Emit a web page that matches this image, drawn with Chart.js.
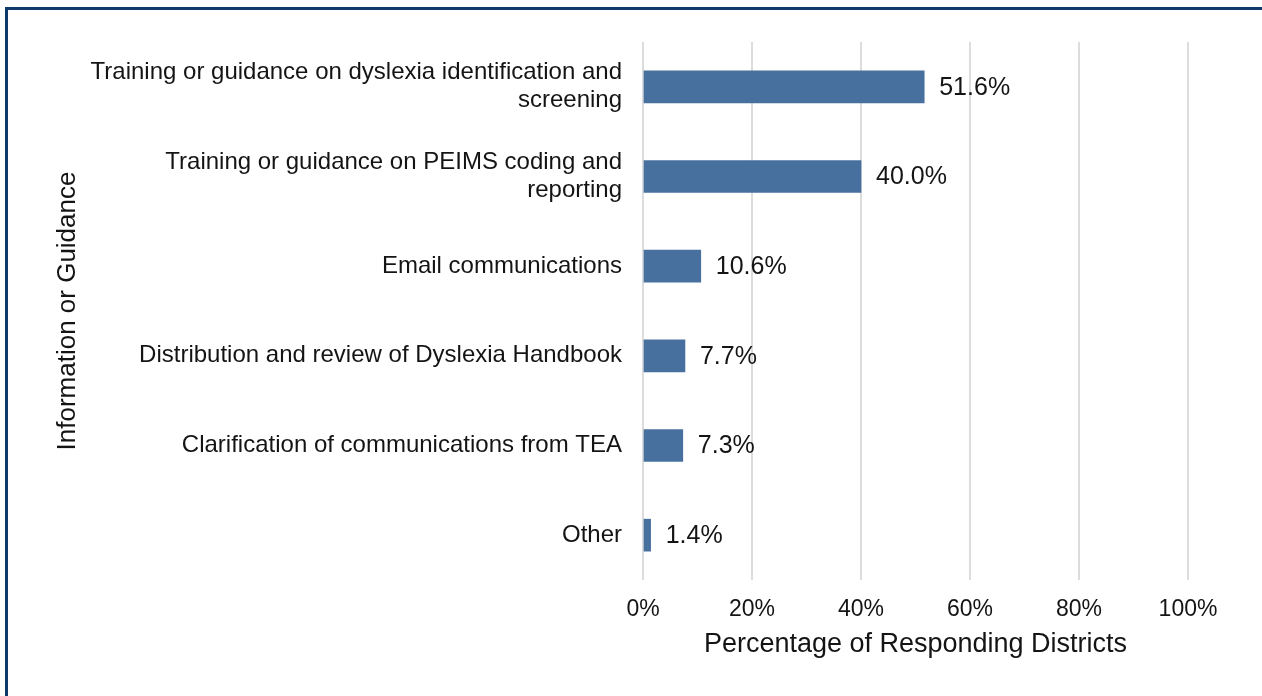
<!DOCTYPE html>
<html>
<head>
<meta charset="utf-8">
<script src="https://cdn.jsdelivr.net/npm/chart.js@4/dist/chart.umd.min.js"></script>
<style>
  html, body { margin: 0; padding: 0; background: #fff; overflow: hidden; }
  #wrap { position: relative; width: 1262px; height: 696px; }
  #frame { position: absolute; left: 5px; top: 7px; width: 1300px; height: 740px;
           border-top: 3px solid #0e3a68; border-left: 3px solid #0e3a68; box-sizing: border-box; }
  canvas { position: absolute; left: 0; top: 0; }
</style>
</head>
<body>
<div id="wrap">
  <div id="frame"></div>
  <canvas id="c" width="1262" height="696"></canvas>
</div>
<script>
const categories = [
  ["Training or guidance on dyslexia identification and", "screening"],
  ["Training or guidance on PEIMS coding and", "reporting"],
  "Email communications",
  "Distribution and review of Dyslexia Handbook",
  "Clarification of communications from TEA",
  "Other"
];
const values = [51.6, 40.0, 10.6, 7.7, 7.3, 1.4];
const xTickValues = [0, 20, 40, 60, 80, 100];
const xTitle = "Percentage of Responding Districts";
const yTitle = "Information or Guidance";

const FONT = "'Liberation Sans', Arial, sans-serif";
const TEXT = "#141414";

const valueLabels = {
  id: 'valueLabels',
  afterDatasetsDraw(chart) {
    const ctx = chart.ctx;
    const meta = chart.getDatasetMeta(0);
    ctx.save();
    ctx.font = "25px " + FONT;
    ctx.fillStyle = TEXT;
    ctx.textAlign = 'left';
    ctx.textBaseline = 'middle';
    meta.data.forEach((bar, i) => {
      ctx.fillText(values[i].toFixed(1) + '%', bar.x + 15, bar.y + 1);
    });
    ctx.restore();
  }
};

new Chart(document.getElementById('c'), {
  type: 'bar',
  data: {
    labels: categories,
    datasets: [{
      data: values,
      backgroundColor: '#48709e',
      borderWidth: 0,
      barThickness: 32
    }]
  },
  options: {
    indexAxis: 'y',
    responsive: false,
    animation: false,
    devicePixelRatio: 1,
    layout: { padding: { left: 0, top: 42, right: 74, bottom: 0 } },
    plugins: { legend: { display: false }, tooltip: { enabled: false } },
    scales: {
      x: {
        min: 0, max: 100,
        afterBuildTicks(scale) { scale.ticks = xTickValues.map(v => ({ value: v })); },
        afterFit(scale) { scale.height = 116; },
        grid: { color: '#dcdcdc', lineWidth: 2, drawTicks: false },
        border: { display: false },
        ticks: {
          padding: 16,
          color: TEXT,
          font: { family: FONT, size: 23 },
          callback: v => v + '%'
        },
        title: {
          display: true, text: xTitle, color: TEXT,
          font: { family: FONT, size: 27 },
          padding: { top: 0, bottom: 35 }
        }
      },
      y: {
        afterFit(scale) { scale.width = 643; },
        grid: { display: false, drawTicks: false },
        border: { display: false },
        ticks: {
          padding: 21,
          color: TEXT,
          font: { family: FONT, size: 24, lineHeight: 1.17 }
        },
        title: {
          display: true, text: yTitle, color: TEXT,
          font: { family: FONT, size: 26 },
          padding: { top: 52, bottom: 0 }
        }
      }
    }
  },
  plugins: [valueLabels]
});
</script>
</body>
</html>
